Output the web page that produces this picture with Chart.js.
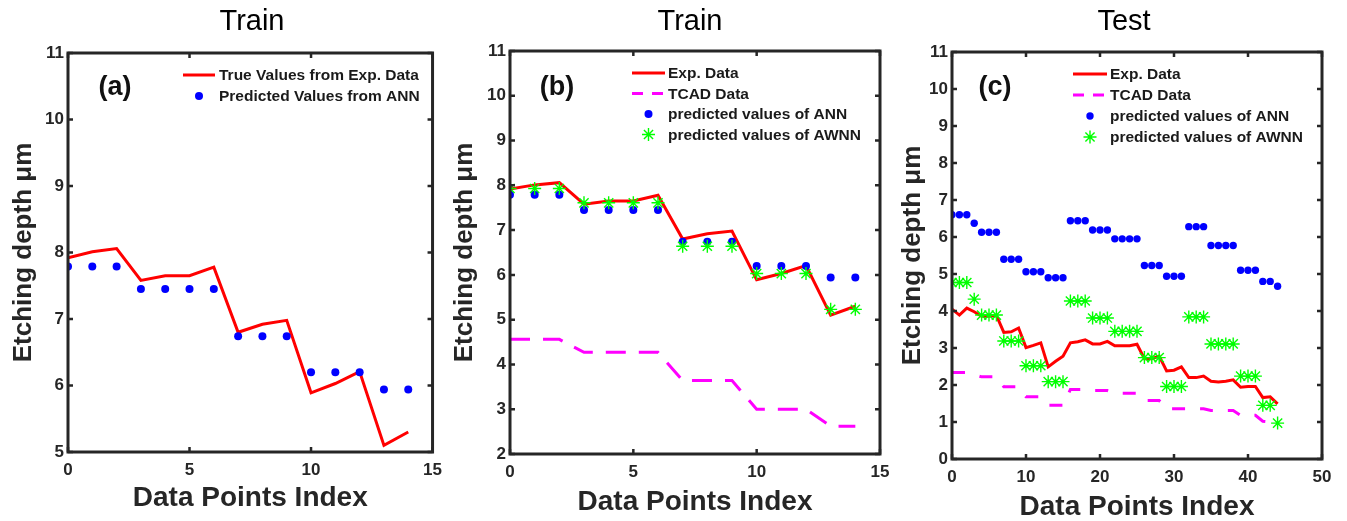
<!DOCTYPE html>
<html lang="en">
<head>
  <meta charset="UTF-8">
  <title>Etching depth - Train / Test</title>
  <script src="https://cdn.jsdelivr.net/npm/chart.js"></script>
  <style>
    html, body { margin: 0; padding: 0; background: #fff; }
    body { width: 1347px; height: 521px; position: relative; overflow: hidden; }
    .panel { position: absolute; top: 0; height: 521px; }
  </style>
</head>
<body>
  <div class="panel" style="left:0;width:450px"><canvas id="chartA"></canvas></div>
  <div class="panel" style="left:450px;width:450px"><canvas id="chartB"></canvas></div>
  <div class="panel" style="left:900px;width:447px"><canvas id="chartC"></canvas></div>

  <script>
    // ---- data ----
    const trainIndex = [0, 1, 2, 3, 4, 5, 6, 7, 8, 9, 10, 11, 12, 13, 14];
    const trainExp   = [7.92, 8.01, 8.06, 7.58, 7.65, 7.65, 7.78, 6.80, 6.92, 6.98, 5.89, 6.03, 6.21, 5.10, 5.30];
    const trainAnn   = [7.79, 7.79, 7.79, 7.45, 7.45, 7.45, 7.45, 6.74, 6.74, 6.74, 6.20, 6.20, 6.20, 5.94, 5.94];
    const trainAwnn  = [7.93, 7.93, 7.93, 7.61, 7.61, 7.61, 7.61, 6.64, 6.64, 6.64, 6.03, 6.03, 6.03, 5.23, 5.23];
    const trainTcad  = [4.56, 4.56, 4.56, 4.27, 4.27, 4.27, 4.27, 3.64, 3.64, 3.64, 3.00, 3.00, 3.00, 2.62, 2.62];

    const testIndex = [0, 1, 2, 3, 4, 5, 6, 7, 8, 9, 10, 11, 12, 13, 14, 15, 16, 17, 18, 19, 20, 21, 22,
                       23, 24, 25, 26, 27, 28, 29, 30, 31, 32, 33, 34, 35, 36, 37, 38, 39, 40, 41, 42, 43, 44];
    const testExp  = [4.05, 3.89, 4.08, 3.98, 3.86, 3.86, 3.88, 3.42, 3.44, 3.54, 3.01, 3.07, 3.14, 2.49, 2.64,
                      2.78, 3.14, 3.17, 3.22, 3.11, 3.11, 3.18, 3.06, 3.06, 3.06, 3.10, 2.71, 2.71, 2.78, 2.38,
                      2.40, 2.49, 2.20, 2.20, 2.24, 2.10, 2.08, 2.10, 2.14, 1.94, 1.96, 1.96, 1.66, 1.68, 1.49];
    const testAnn  = [6.60, 6.60, 6.60, 6.37, 6.13, 6.13, 6.13, 5.40, 5.40, 5.40, 5.06, 5.06, 5.06, 4.90, 4.90,
                      4.90, 6.44, 6.44, 6.44, 6.19, 6.19, 6.19, 5.95, 5.95, 5.95, 5.95, 5.23, 5.23, 5.23, 4.94,
                      4.94, 4.94, 6.28, 6.28, 6.28, 5.77, 5.77, 5.77, 5.77, 5.10, 5.10, 5.10, 4.80, 4.80, 4.67];
    const testAwnn = [4.77, 4.77, 4.77, 4.32, 3.89, 3.89, 3.89, 3.19, 3.19, 3.19, 2.52, 2.52, 2.52, 2.09, 2.09,
                      2.09, 4.27, 4.27, 4.27, 3.81, 3.81, 3.81, 3.45, 3.45, 3.45, 3.45, 2.74, 2.74, 2.74, 1.96,
                      1.96, 1.96, 3.84, 3.84, 3.84, 3.11, 3.11, 3.11, 3.11, 2.24, 2.24, 2.24, 1.45, 1.45, 0.97];
    const testTcad = [2.34, 2.34, 2.34, 2.28, 2.22, 2.22, 2.22, 1.95, 1.95, 1.95, 1.68, 1.68, 1.68, 1.45, 1.45,
                      1.45, 1.88, 1.88, 1.88, 1.85, 1.85, 1.85, 1.78, 1.78, 1.78, 1.78, 1.58, 1.58, 1.58, 1.36,
                      1.36, 1.36, 1.36, 1.36, 1.36, 1.31, 1.31, 1.31, 1.31, 1.18, 1.18, 1.18, 1.02, 1.00, 0.92];

    const xTicksTrain = [0, 5, 10, 15];
    const xTicksTest  = [0, 10, 20, 30, 40, 50];

    const FONT = '"Liberation Sans", Arial, Helvetica, sans-serif';
    const AXIS_COLOR = '#262626';

    const pts = (xs, ys) => xs.map((x, i) => ({ x: x, y: ys[i] }));

    function expSet(label, ys, xs) {
      return { label, kind: 'line', data: pts(xs, ys), borderColor: '#ff0000', borderWidth: 3,
               pointRadius: 0, tension: 0, order: 4 };
    }
    function tcadSet(label, ys, xs, dash) {
      return { label, kind: 'line', data: pts(xs, ys), borderColor: '#ff00ff', borderWidth: 3,
               borderDash: dash, pointRadius: 0, tension: 0, order: 3 };
    }
    function annSet(label, ys, xs, r) {
      return { label, kind: 'dot', data: pts(xs, ys), showLine: false, pointStyle: 'circle',
               pointRadius: r, backgroundColor: '#0000ff', borderColor: '#0000ff', borderWidth: 0, order: 2 };
    }
    function awnnSet(label, ys, xs, r) {
      return { label, kind: 'star', data: pts(xs, ys), showLine: false, pointStyle: 'star',
               pointRadius: r, borderColor: '#00ff00', backgroundColor: '#00ff00', borderWidth: 1.4, order: 1 };
    }

    // titles, panel tags, box, inward ticks and legend
    const panelDeco = {
      id: 'panelDeco',
      afterDraw(chart, args, opts) {
        const ctx = chart.ctx;
        const a = chart.chartArea;
        const xs = chart.scales.x, ys = chart.scales.y;
        ctx.save();

        // inward ticks on all four sides
        ctx.strokeStyle = AXIS_COLOR;
        ctx.lineWidth = 2.5;
        const tl = 5;
        xs.ticks.forEach(t => {
          const px = xs.getPixelForValue(t.value);
          ctx.beginPath();
          ctx.moveTo(px, a.bottom); ctx.lineTo(px, a.bottom - tl);
          ctx.moveTo(px, a.top); ctx.lineTo(px, a.top + tl);
          ctx.stroke();
        });
        ys.ticks.forEach(t => {
          const py = ys.getPixelForValue(t.value);
          ctx.beginPath();
          ctx.moveTo(a.left, py); ctx.lineTo(a.left + tl, py);
          ctx.moveTo(a.right, py); ctx.lineTo(a.right - tl, py);
          ctx.stroke();
        });
        // box
        ctx.lineWidth = 3;
        ctx.strokeRect(a.left, a.top, a.right - a.left, a.bottom - a.top);

        // title
        ctx.fillStyle = '#000';
        ctx.font = '29px ' + FONT;
        ctx.textAlign = 'center';
        ctx.textBaseline = 'middle';
        ctx.fillText(opts.title, opts.titleX, 22);

        // panel tag
        ctx.font = 'bold 27px ' + FONT;
        ctx.fillStyle = '#111';
        ctx.fillText(opts.tag, opts.tagX, 88);

        // legend
        const lg = opts.legend;
        ctx.font = 'bold 15.5px ' + FONT;
        ctx.textAlign = 'left';
        ctx.textBaseline = 'middle';
        chart.data.datasets.forEach((ds, i) => {
          const y = lg.y + i * lg.dy;
          const mx = (lg.x0 + lg.x1) / 2;
          ctx.save();
          if (ds.kind === 'line') {
            ctx.strokeStyle = ds.borderColor;
            ctx.lineWidth = 3;
            ctx.setLineDash(ds.borderDash ? [11, 9] : []);
            ctx.beginPath();
            ctx.moveTo(lg.x0, y); ctx.lineTo(lg.x1, y);
            ctx.stroke();
          } else if (ds.kind === 'dot') {
            ctx.fillStyle = ds.backgroundColor;
            ctx.beginPath();
            ctx.arc(mx, y, ds.pointRadius, 0, Math.PI * 2);
            ctx.fill();
          } else {
            ctx.strokeStyle = ds.borderColor;
            ctx.lineWidth = ds.borderWidth;
            const r = ds.pointRadius;
            ctx.beginPath();
            for (let k = 0; k < 4; k++) {
              const ang = k * Math.PI / 4;
              ctx.moveTo(mx - r * Math.cos(ang), y - r * Math.sin(ang));
              ctx.lineTo(mx + r * Math.cos(ang), y + r * Math.sin(ang));
            }
            ctx.stroke();
          }
          ctx.restore();
          ctx.fillStyle = '#1a1a1a';
          ctx.fillText(ds.label, lg.tx, y + 1);
        });
        ctx.restore();
      }
    };

    function makeChart(id, cfg) {
      return new Chart(document.getElementById(id), {
        type: 'line',
        data: { datasets: cfg.datasets },
        options: {
          responsive: true,
          maintainAspectRatio: false,
          animation: false,
          events: [],
          layout: { padding: { top: cfg.area.top, right: cfg.area.right, left: 0, bottom: 0 } },
          plugins: {
            legend: { display: false },
            tooltip: { enabled: false },
            panelDeco: cfg.deco
          },
          scales: {
            x: {
              type: 'linear',
              min: cfg.xTicks[0],
              max: cfg.xTicks[cfg.xTicks.length - 1],
              afterBuildTicks: s => { s.ticks = cfg.xTicks.map(v => ({ value: v })); },
              afterFit: s => { s.height = cfg.area.xh; },
              grid: { display: false, drawTicks: false },
              border: { display: false },
              ticks: { color: AXIS_COLOR, padding: 8, maxRotation: 0,
                       font: { family: FONT, size: 17, weight: 'bold' } },
              title: { display: true, text: 'Data Points Index', color: AXIS_COLOR,
                       padding: { top: 0, bottom: cfg.area.xtPad },
                       font: { family: FONT, size: 28, weight: 'bold', lineHeight: 1 } }
            },
            y: {
              type: 'linear',
              min: cfg.yMin,
              max: cfg.yMax,
              ticks: { stepSize: 1, color: AXIS_COLOR, padding: 4,
                       font: { family: FONT, size: 17, weight: 'bold' } },
              afterFit: s => { s.width = cfg.area.left; },
              grid: { display: false, drawTicks: false },
              border: { display: false },
              title: { display: true, text: 'Etching depth \u03bcm', color: AXIS_COLOR,
                       padding: { top: cfg.area.ytPad, bottom: 0 },
                       font: { family: FONT, size: 26, weight: 'bold', lineHeight: 1 } }
            }
          }
        },
        plugins: [panelDeco]
      });
    }

    makeChart('chartA', {
      datasets: [
        expSet('True Values from Exp. Data', trainExp, trainIndex),
        annSet('Predicted Values from ANN', trainAnn, trainIndex, 4)
      ],
      xTicks: xTicksTrain, yMin: 5, yMax: 11,
      area: { left: 68, right: 13, top: 53, xh: 69, xtPad: 9, ytPad: 11 },
      deco: { title: 'Train', titleX: 252, tag: '(a)', tagX: 115,
              legend: { x0: 183, x1: 215, tx: 219, y: 75, dy: 21 } }
    });

    makeChart('chartB', {
      datasets: [
        expSet('Exp. Data', trainExp, trainIndex),
        tcadSet('TCAD Data', trainTcad, trainIndex, [20, 13]),
        annSet('predicted values of ANN', trainAnn, trainIndex, 4),
        awnnSet('predicted values of AWNN', trainAwnn, trainIndex, 6.5)
      ],
      xTicks: xTicksTrain, yMin: 2, yMax: 11,
      area: { left: 60, right: 20, top: 51, xh: 67, xtPad: 5, ytPad: 2 },
      deco: { title: 'Train', titleX: 240, tag: '(b)', tagX: 107,
              legend: { x0: 182, x1: 215, tx: 218, y: 73, dy: 20.5 } }
    });

    makeChart('chartC', {
      datasets: [
        expSet('Exp. Data', testExp, testIndex),
        tcadSet('TCAD Data', testTcad, testIndex, [13, 15]),
        annSet('predicted values of ANN', testAnn, testIndex, 3.7),
        awnnSet('predicted values of AWNN', testAwnn, testIndex, 6.5)
      ],
      xTicks: xTicksTest, yMin: 0, yMax: 11,
      area: { left: 52, right: 25, top: 52, xh: 62, xtPad: 0, ytPad: 0 },
      deco: { title: 'Test', titleX: 224, tag: '(c)', tagX: 95,
              legend: { x0: 173, x1: 207, tx: 210, y: 74, dy: 21 } }
    });
  </script>
</body>
</html>
